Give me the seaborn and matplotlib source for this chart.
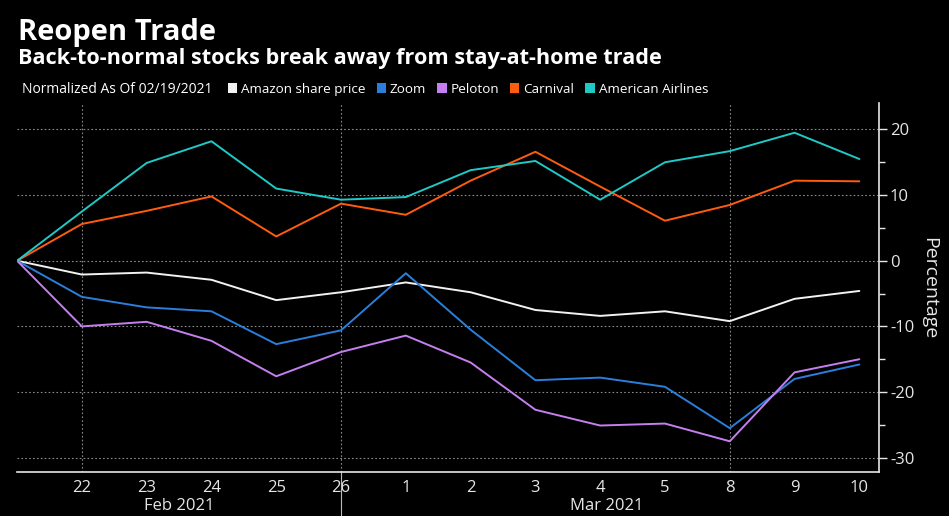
import matplotlib
matplotlib.use("Agg")
import matplotlib.pyplot as plt
from matplotlib.patches import Patch
from matplotlib.lines import Line2D
from matplotlib.ticker import MultipleLocator
import pandas as pd
import seaborn as sns

# trading days, Feb 19 2021 -> Mar 10 2021
day_labels = ["19", "22", "23", "24", "25", "26", "1", "2", "3", "4", "5", "8", "9", "10"]

amazon = [0, -2.1, -1.8, -2.9, -6.0, -4.8, -3.3, -4.8, -7.5, -8.4, -7.7, -9.2, -5.8, -4.6]
zoom = [0, -5.5, -7.1, -7.7, -12.7, -10.6, -1.9, -10.5, -18.2, -17.8, -19.2, -25.5, -18.0, -15.8]
peloton = [0, -10.0, -9.3, -12.2, -17.6, -13.9, -11.4, -15.5, -22.7, -25.1, -24.8, -27.5, -17.0, -15.0]
carnival = [0, 5.6, 7.6, 9.8, 3.7, 8.7, 7.0, 12.2, 16.6, 11.3, 6.1, 8.5, 12.2, 12.1]
american = [0, 7.5, 14.9, 18.2, 11.0, 9.3, 9.7, 13.8, 15.2, 9.3, 15.0, 16.7, 19.5, 15.5]

series_names = ["Amazon share price", "Zoom", "Peloton", "Carnival", "American Airlines"]
series_colors = ["#f2f2f2", "#2a7fdc", "#c57ff0", "#ff5c0f", "#1fc9c6"]

frames = []
for name, vals in zip(series_names, [amazon, zoom, peloton, carnival, american]):
    frames.append(pd.DataFrame({"day": range(len(day_labels)), "pct": vals, "series": name}))
df = pd.concat(frames, ignore_index=True)

sns.set_theme(style="dark")
plt.rcParams["font.family"] = ["Open Sans", "DejaVu Sans"]
plt.rcParams["axes.unicode_minus"] = False

fig = plt.figure(figsize=(9.49, 5.16), dpi=100, facecolor="black")
ax = fig.add_axes([0.018, 0.085, 0.908, 0.715], facecolor="black")

sns.lineplot(
    data=df, x="day", y="pct", hue="series", hue_order=series_names,
    palette=dict(zip(series_names, series_colors)), linewidth=1.4, ax=ax, legend=False,
)

ax.set_xlim(0, 13.3)
ax.set_ylim(-32.2, 24)
ax.yaxis.tick_right()
ax.yaxis.set_major_locator(MultipleLocator(10))
ax.yaxis.set_minor_locator(MultipleLocator(5))
ax.tick_params(axis="y", which="major", colors="#e6e6e6", labelsize=12, length=6, width=1, direction="out", left=False, right=True, pad=2)
ax.tick_params(axis="y", which="minor", colors="#e6e6e6", length=4, width=1, left=False, right=True)
ax.set_ylabel("")
ax.set_xlabel("")
# axis title placed by hand so it sits clear of the tick labels
ax.text(1.058, 0.5, "Percentage", transform=ax.transAxes, rotation=-90, ha="center", va="center",
        color="#e6e6e6", fontsize=14)

ax.set_xticks(range(1, len(day_labels)))
ax.set_xticklabels(day_labels[1:])
ax.tick_params(axis="x", colors="#e6e6e6", labelsize=12, length=0, pad=6)

for s in ["top", "left"]:
    ax.spines[s].set_visible(False)
ax.spines["bottom"].set_color("#e6e6e6")
ax.spines["right"].set_color("#e6e6e6")
ax.spines["bottom"].set_linewidth(1.2)
ax.spines["right"].set_linewidth(1.2)

for yv in [-30, -20, -10, 0, 10, 20]:
    ax.axhline(yv, color="#8a8a8a", linestyle=(0, (1.5, 2)), linewidth=0.8, zorder=0)
for xv in [1, 5, 11]:
    ax.axvline(xv, color="#8a8a8a", linestyle=(0, (1.5, 2)), linewidth=0.8, zorder=0)

# month labels and separator below the axis
ax.text(2.5, -0.07, "Feb 2021", transform=ax.get_xaxis_transform(), ha="center", va="top", color="#e6e6e6", fontsize=12)
ax.text(9.1, -0.07, "Mar 2021", transform=ax.get_xaxis_transform(), ha="center", va="top", color="#e6e6e6", fontsize=12)
ax.add_line(Line2D([5, 5], [0, -0.13], transform=ax.get_xaxis_transform(), color="#bbbbbb", linewidth=0.8, clip_on=False))

fig.text(0.019, 0.937, "Reopen Trade", color="white", fontsize=21, fontweight="bold", va="center")
fig.text(0.019, 0.887, "Back-to-normal stocks break away from stay-at-home trade", color="white", fontsize=15.6, fontweight="bold", va="center")
fig.text(0.023, 0.827, "Normalized As Of 02/19/2021", color="white", fontsize=10, va="center")

handles = [Patch(facecolor=c, edgecolor="none", label=n) for n, c in zip(series_names, series_colors)]
leg = fig.legend(
    handles=handles, loc="center left", bbox_to_anchor=(0.24, 0.827), ncol=5, frameon=False,
    fontsize=9.7, handlelength=0.7, handleheight=0.7, handletextpad=0.3, columnspacing=0.8,
    borderaxespad=0, borderpad=0,
)
for t in leg.get_texts():
    t.set_color("white")

fig.savefig("out.png", dpi=100, facecolor="black")
